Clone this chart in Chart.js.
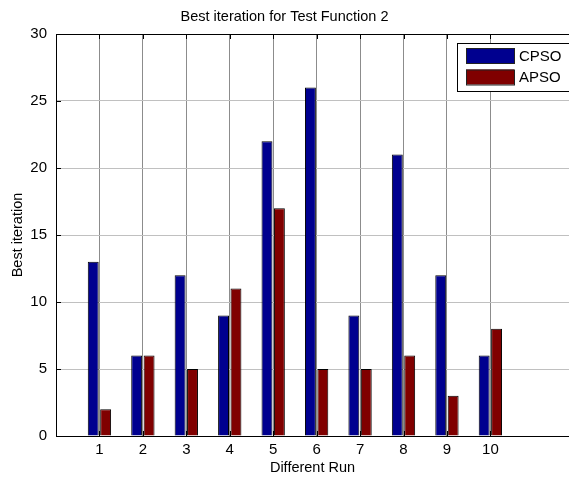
<!DOCTYPE html>
<html>
<head>
<meta charset="utf-8">
<script src="https://cdn.jsdelivr.net/npm/chart.js@4/dist/chart.umd.min.js"></script>
<style>
html,body{margin:0;padding:0;background:#fff;overflow:hidden;}
#wrap{width:569px;height:477px;position:relative;}
</style>
</head>
<body>
<div id="wrap"><canvas id="c" width="569" height="477"></canvas></div>
<script>
const runs = [1,2,3,4,5,6,7,8,9,10];
const cpso = [13,6,12,9,22,26,9,21,12,6];
const apso = [2,6,5,11,17,5,5,6,3,8];
const yTicks = [0,5,10,15,20,25,30];
const seriesNames = ['CPSO','APSO'];
const seriesColors = ['#00008f','#800000'];

const FONT = '"Liberation Sans", Arial, sans-serif';

const framePlugin = {
  id: 'frame',
  afterDatasetsDraw(chart) {
    const {ctx, chartArea: a, scales: {x, y}} = chart;
    ctx.save();
    ctx.strokeStyle = '#000';
    ctx.lineWidth = 1;
    ctx.beginPath();
    ctx.moveTo(a.left, a.top + 0.5); ctx.lineTo(a.right + 20, a.top + 0.5);
    ctx.stroke();
    // inward ticks
    ctx.beginPath();
    for (const v of yTicks) {
      const py = Math.round(y.getPixelForValue(v)) + 0.5;
      ctx.moveTo(a.left, py); ctx.lineTo(a.left + 5, py);
    }
    for (const v of runs) {
      const px = Math.round(x.getPixelForValue(v)) + 0.5;
      ctx.moveTo(px, a.bottom); ctx.lineTo(px, a.bottom - 5);
      ctx.moveTo(px, a.top); ctx.lineTo(px, a.top + 5);
    }
    ctx.stroke();
    // legend
    const lx = 457, ly = 43, lh = 48;
    ctx.fillStyle = '#fff';
    ctx.fillRect(lx, ly, 130, lh);
    ctx.strokeRect(lx + 0.5, ly + 0.5, 130, lh);
    ctx.font = '15px ' + FONT;
    ctx.textBaseline = 'middle';
    const rows = [55.5, 77];
    chart.data.datasets.forEach((ds, i) => {
      ctx.fillStyle = ds.backgroundColor;
      ctx.fillRect(466, rows[i] - 7.5, 48, 15);
      ctx.strokeStyle = '#222';
      ctx.strokeRect(466.5, rows[i] - 7.5 + 0.5, 48, 15);
      ctx.fillStyle = '#000';
      ctx.fillText(ds.label, 519, rows[i] + 1);
    });
    ctx.restore();
  }
};

new Chart(document.getElementById('c'), {
  type: 'bar',
  data: {
    datasets: [
      {label: seriesNames[0], data: runs.map((r,i)=>({x:r, y:cpso[i]})), backgroundColor: seriesColors[0], borderColor:'#000', borderWidth:1},
      {label: seriesNames[1], data: runs.map((r,i)=>({x:r, y:apso[i]})), backgroundColor: seriesColors[1], borderColor:'#000', borderWidth:1}
    ]
  },
  options: {
    responsive: false,
    animation: false,
    events: [],
    layout: {padding: {left: 0, right: 0, top: 0, bottom: 0}},
    datasets: {bar: {categoryPercentage: 0.571, barPercentage: 0.88}},
    plugins: {
      legend: {display: false},
      tooltip: {enabled: false},
      title: {
        display: true,
        text: 'Best iteration for Test Function 2',
        color: '#000',
        font: {family: FONT, size: 14.5, weight: 'normal'},
        padding: {top: 8, bottom: 8.6}
      }
    },
    scales: {
      x: {
        type: 'linear',
        min: 0,
        max: 11.81,
        offset: false,
        afterBuildTicks: (s) => { s.ticks = runs.map(v => ({value: v})); },
        afterFit: (s) => { s.height = 41; },
        ticks: {color: '#000', font: {family: FONT, size: 15}, padding: 5, autoSkip: false, maxRotation: 0},
        grid: {color: '#8c8c8c', drawTicks: false, offset: false},
        border: {color: '#000', width: 1},
        title: {display: true, text: 'Different Run', color: '#000', font: {family: FONT, size: 14.5}, padding: {top: 0, bottom: 0}}
      },
      y: {
        min: 0,
        max: 30,
        afterBuildTicks: (s) => { s.ticks = yTicks.map(v => ({value: v})); },
        afterFit: (s) => { s.width = 56; },
        ticks: {color: '#000', font: {family: FONT, size: 15}, padding: 9},
        grid: {color: '#c0c0c0', drawTicks: false},
        border: {color: '#000', width: 1},
        title: {display: true, text: 'Best iteration', color: '#000', font: {family: FONT, size: 14.5}, padding: {top: 9, bottom: 2}}
      }
    }
  },
  plugins: [framePlugin]
});
</script>
</body>
</html>
